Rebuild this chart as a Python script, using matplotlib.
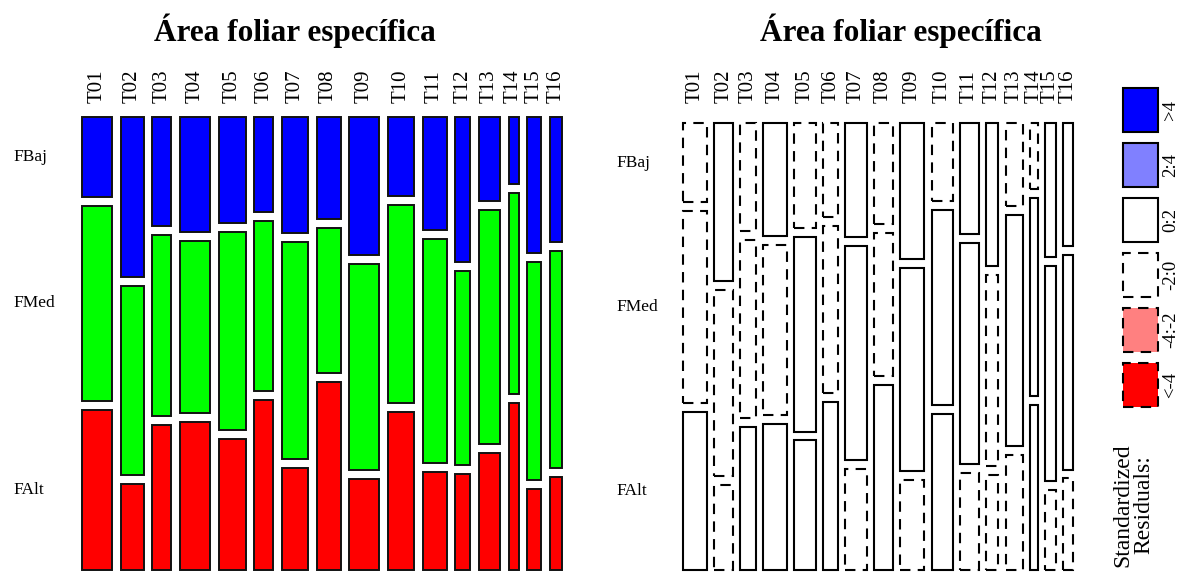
import matplotlib
matplotlib.use('Agg')
import matplotlib.pyplot as plt
import numpy as np
from matplotlib.patches import Rectangle
from matplotlib.transforms import blended_transform_factory

plt.rcParams['font.family'] = ['Liberation Serif', 'DejaVu Serif']

# columnas (tratamientos) y su peso relativo (ancho de columna)
tratamientos = ['T01', 'T02', 'T03', 'T04', 'T05', 'T06', 'T07', 'T08',
                'T09', 'T10', 'T11', 'T12', 'T13', 'T14', 'T15', 'T16']
n_trat = [30, 23, 19, 30, 27, 19, 26, 24, 30, 26, 24, 15, 21, 10, 14, 12]

# filas (frecuencia) leidas por columna
clases = ['FBaj', 'FMed', 'FAlt']
fbaj = [80, 160, 109, 115, 106, 95, 116, 102, 138, 79, 113, 145, 84, 67, 136, 125]
fmed = [194, 188, 180, 172, 197, 170, 217, 145, 206, 198, 224, 193, 234, 201, 218, 218]
falt = [160, 86, 145, 148, 131, 170, 102, 188, 91, 158, 98, 96, 117, 167, 81, 93]

# signo del residuo estandarizado (1 = 0:2, -1 = -2:0)
res_fbaj = [-1, 1, -1, 1, -1, -1, 1, -1, 1, -1, 1, 1, -1, -1, 1, 1]
res_fmed = [-1, -1, -1, -1, 1, -1, 1, -1, 1, 1, 1, -1, 1, 1, 1, 1]
res_falt = [1, -1, 1, 1, 1, 1, -1, 1, -1, 1, -1, -1, -1, 1, -1, -1]

leyenda = ['>4', '2:4', '0:2', '-2:0', '-4:-2', '<-4']
colores_leyenda = ['#0000ff', '#8080ff', '#ffffff', '#ffffff', '#ff8080', '#ff0000']
estilo_leyenda = ['-', '-', '-', '--', '--', '--']

titulo = 'Área foliar específica'

W, H = 1188, 575
fig = plt.figure(figsize=(W / 100, H / 100), dpi=100)

alturas = np.array([fbaj, fmed, falt], dtype=float)
residuos = np.array([res_fbaj, res_fmed, res_falt])
pesos = np.array(n_trat, dtype=float)

HGAP = 0.0182
VGAP = 0.0200
DASH = (0, (5, 3.5))


def mosaico(ax, relleno):
    ncol = len(pesos)
    anchos = pesos / pesos.sum() * (1 - (ncol - 1) * HGAP)
    x0 = np.concatenate([[0], np.cumsum(anchos)[:-1]]) + np.arange(ncol) * HGAP
    centros_fila = []
    for j in range(ncol):
        col = alturas[:, j]
        hs = col / col.sum() * (1 - 2 * VGAP)
        top = 1.0
        for i in range(3):
            if relleno:
                r = Rectangle((x0[j], top - hs[i]), anchos[j], hs[i],
                              facecolor=['#0000ff', '#00ff00', '#ff0000'][i],
                              edgecolor='#111111', lw=1.4, clip_on=False)
            else:
                ls = '-' if residuos[i, j] > 0 else DASH
                r = Rectangle((x0[j], top - hs[i]), anchos[j], hs[i],
                              facecolor='white', edgecolor='black', lw=1.5,
                              linestyle=ls, clip_on=False)
            ax.add_patch(r)
            if j == 0:
                centros_fila.append(top - hs[i] / 2)
            top -= hs[i] + VGAP
    return x0 + anchos / 2, centros_fila


def panel(px0, px1, py0, py1, relleno, lab_x, tit_x):
    ax = fig.add_axes([px0 / W, 1 - py1 / H, (px1 - px0) / W, (py1 - py0) / H])
    ax.set_xlim(0, 1)
    ax.set_ylim(0, 1)
    ax.axis('off')
    cx, cy = mosaico(ax, relleno)
    tr_col = blended_transform_factory(ax.transData, fig.transFigure)
    for x, t in zip(cx, tratamientos):
        ax.text(x, 1 - 103 / H, t, transform=tr_col, rotation=90,
                ha='center', va='bottom', fontsize=15)
    tr_fil = blended_transform_factory(fig.transFigure, ax.transData)
    for y, c in zip(cy, clases):
        ax.text(lab_x / W, y, c, transform=tr_fil, ha='left', va='center',
                fontsize=12.5)
    fig.text(tit_x / W, 1 - 41 / H, titulo, ha='center', va='baseline',
             fontsize=22.5, fontweight='bold')


panel(82, 562, 117, 570, True, 13, 295)
panel(683, 1073, 123, 570, False, 616, 901)

# leyenda de residuos
axl = fig.add_axes([1123 / W, 1 - 412.5 / H, 35 / W, 330 / H])
axl.set_xlim(0, 1)
axl.set_ylim(0, len(leyenda))
axl.axis('off')
for k, (lab, col, ls) in enumerate(zip(leyenda, colores_leyenda, estilo_leyenda)):
    y = len(leyenda) - k - 1
    axl.add_patch(Rectangle((0, y + 0.1), 1, 0.8, facecolor=col, edgecolor='black',
                            lw=1.5, linestyle=ls if ls == '-' else DASH, clip_on=False))
    axl.text(1.37, y + 0.5, lab, rotation=90, ha='center', va='center', fontsize=13.5)

fig.text(1133 / W, 1 - 505 / H, 'Standardized\nResiduals:', rotation=90,
         ha='center', va='center', fontsize=17, linespacing=1.0)

fig.savefig('out.png', dpi=100)
